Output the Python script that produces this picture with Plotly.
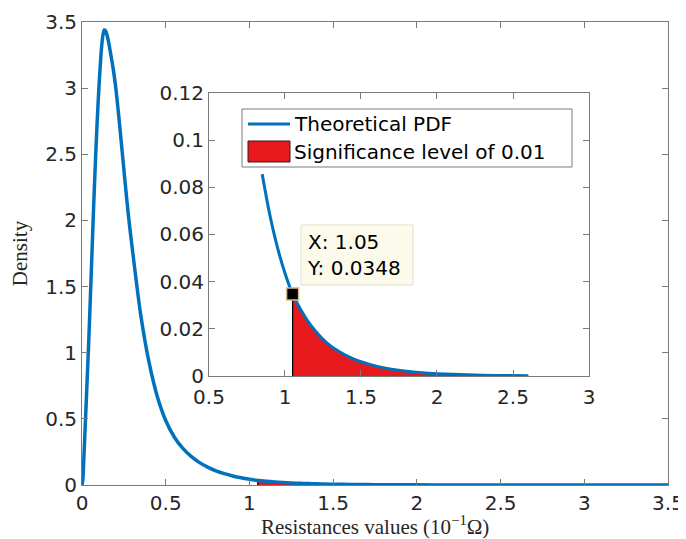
import plotly.graph_objects as go

# ---- data ----
resistance = [0, 0.005, 0.01, 0.015, 0.02, 0.03, 0.04, 0.05, 0.06, 0.07, 0.08, 0.09, 0.1,
              0.108, 0.115, 0.12, 0.125, 0.133, 0.14, 0.15, 0.16, 0.17, 0.187, 0.2, 0.213,
              0.227, 0.24, 0.255, 0.277, 0.303, 0.35, 0.4, 0.45, 0.5, 0.55, 0.6, 0.65, 0.7,
              0.75, 0.8, 0.85, 0.9, 0.95, 1.0, 1.05, 1.1, 1.15, 1.2, 1.25, 1.3, 1.35, 1.4,
              1.45, 1.5, 1.6, 1.7, 1.8, 1.9, 2.0, 2.2, 2.4, 2.6, 3.0, 3.5]
density = [0, 0.04, 0.17, 0.32, 0.47, 0.77, 1.08, 1.42, 1.77, 2.12, 2.44, 2.73, 2.98,
           3.15, 3.28, 3.35, 3.40, 3.44, 3.435, 3.40, 3.34, 3.27, 3.14, 3.02, 2.87,
           2.69, 2.52, 2.32, 2.04, 1.76, 1.293, 0.930, 0.668, 0.488, 0.365, 0.280, 0.218, 0.171,
           0.135, 0.107, 0.0856, 0.0684, 0.0546, 0.0436, 0.0348, 0.0285, 0.0233, 0.0191, 0.0156, 0.0128, 0.0106, 0.0088,
           0.0073, 0.0061, 0.0042, 0.0029, 0.0020, 0.0014, 0.0010, 0.0005, 0.00027, 0.00015, 0.00005, 0.00001]

critical_x = 1.05
critical_y = 0.0348
tail_end = 2.6
inset_start = 0.82

main_xticks = [0, 0.5, 1, 1.5, 2, 2.5, 3, 3.5]
main_yticks = [0, 0.5, 1, 1.5, 2, 2.5, 3, 3.5]
inset_xticks = [0.5, 1, 1.5, 2, 2.5, 3]
inset_yticks = [0, 0.02, 0.04, 0.06, 0.08, 0.1, 0.12]

legend_labels = ["Theoretical PDF", "Significance level of 0.01"]
x_title = "Resistances values (10<sup>−1</sup>Ω)"
y_title = "Density"

# ---- derived subsets ----
tail_x = [x for x in resistance if critical_x <= x <= tail_end]
tail_y = [y for x, y in zip(resistance, density) if critical_x <= x <= tail_end]
inset_x = [x for x in resistance if inset_start <= x <= tail_end]
inset_y = [y for x, y in zip(resistance, density) if inset_start <= x <= tail_end]

BLUE = "#0072BD"
RED = "#E8191C"
AX = "#7a7a7a"
TXT = "#262626"
SANS = "DejaVu Sans"
SERIF = "Liberation Serif"

fig = go.Figure()

for xa, ya, lw, xs, ys in [("x", "y", 3.5, resistance, density), ("x2", "y2", 3, inset_x, inset_y)]:
    fig.add_trace(go.Scatter(x=tail_x, y=tail_y, mode="lines", fill="tozeroy",
                             fillcolor=RED, line=dict(color="black", width=1.5, shape="spline"),
                             xaxis=xa, yaxis=ya, showlegend=False, hoverinfo="skip"))
    fig.add_trace(go.Scatter(x=[critical_x, critical_x], y=[0, critical_y], mode="lines",
                             line=dict(color="black", width=1.2),
                             xaxis=xa, yaxis=ya, showlegend=False, hoverinfo="skip"))
    fig.add_trace(go.Scatter(x=xs, y=ys, mode="lines",
                             line=dict(color=BLUE, width=lw, shape="spline", smoothing=0.8),
                             xaxis=xa, yaxis=ya, showlegend=False))

fig.add_trace(go.Scatter(x=[critical_x], y=[critical_y], mode="markers",
                         marker=dict(symbol="square", size=12, color="black",
                                     line=dict(color="#D9B98C", width=1.5)),
                         xaxis="x2", yaxis="y2", showlegend=False, cliponaxis=False))

axis_common = dict(showline=True, linecolor=AX, linewidth=1, mirror="ticks", ticks="inside",
                   ticklen=6, tickcolor=AX, showgrid=False, zeroline=False, automargin=False,
                   tickfont=dict(family=SANS, size=20, color=TXT))

# the page body adds an 8px offset; figure size/margins compensate so the plot sits where the reference has it
fig.update_layout(
    width=678, height=531,
    margin=dict(l=74, r=18, t=14, b=54),
    paper_bgcolor="white", plot_bgcolor="white",
    showlegend=False,
    xaxis=dict(domain=[0, 1], range=[0, 3.5], tickvals=main_xticks, anchor="y", **axis_common),
    yaxis=dict(domain=[0, 1], range=[0, 3.5], tickvals=main_yticks, anchor="x",
               title=dict(text=y_title, standoff=12,
                          font=dict(family=SERIF, size=21, color=TXT)),
               **axis_common),
    xaxis2=dict(domain=[0.2167, 0.8652], range=[0.5, 3], tickvals=inset_xticks, anchor="y2",
                ticklabelstandoff=3, **axis_common),
    yaxis2=dict(domain=[0.2354, 0.8467], range=[0, 0.12], tickvals=inset_yticks, anchor="x2",
                **axis_common),
)

def px(x):
    return (x - 82) / 586

def py(y):
    return (485 - y) / 463

# x-axis title
fig.add_annotation(xref="paper", yref="paper", x=0.5, y=py(525), text=x_title,
                   showarrow=False, xanchor="center", yanchor="middle",
                   font=dict(family=SERIF, size=21, color=TXT))

# manual legend (MATLAB style)
fig.add_shape(type="rect", xref="paper", yref="paper", x0=px(242), x1=px(572), y0=py(167), y1=py(109),
              fillcolor="white", line=dict(color=AX, width=1))
fig.add_shape(type="line", xref="paper", yref="paper", x0=px(248), x1=px(290), y0=py(124), y1=py(124),
              line=dict(color=BLUE, width=3))
fig.add_shape(type="rect", xref="paper", yref="paper", x0=px(248), x1=px(290), y0=py(162), y1=py(141),
              fillcolor=RED, line=dict(color="#3a1a1a", width=1))
fig.add_annotation(xref="paper", yref="paper", x=px(292), y=py(124), text=legend_labels[0],
                   showarrow=False, xanchor="left", yanchor="middle",
                   font=dict(family=SANS, size=20, color="black"))
fig.add_annotation(xref="paper", yref="paper", x=px(292), y=py(152), text=legend_labels[1],
                   showarrow=False, xanchor="left", yanchor="middle",
                   font=dict(family=SANS, size=20, color="black"))

# datatip
fig.add_shape(type="rect", xref="paper", yref="paper", x0=px(301), x1=px(413), y0=py(285), y1=py(225),
              fillcolor="#FCFAEB", line=dict(color="#E3DFCC", width=1))
fig.add_annotation(xref="paper", yref="paper", x=px(305), y=py(255),
                   text=f"X: {critical_x}<br>Y: {critical_y}", showarrow=False,
                   xanchor="left", yanchor="middle", align="left",
                   font=dict(family=SANS, size=20, color="black"))

fig.write_html("out.html")
